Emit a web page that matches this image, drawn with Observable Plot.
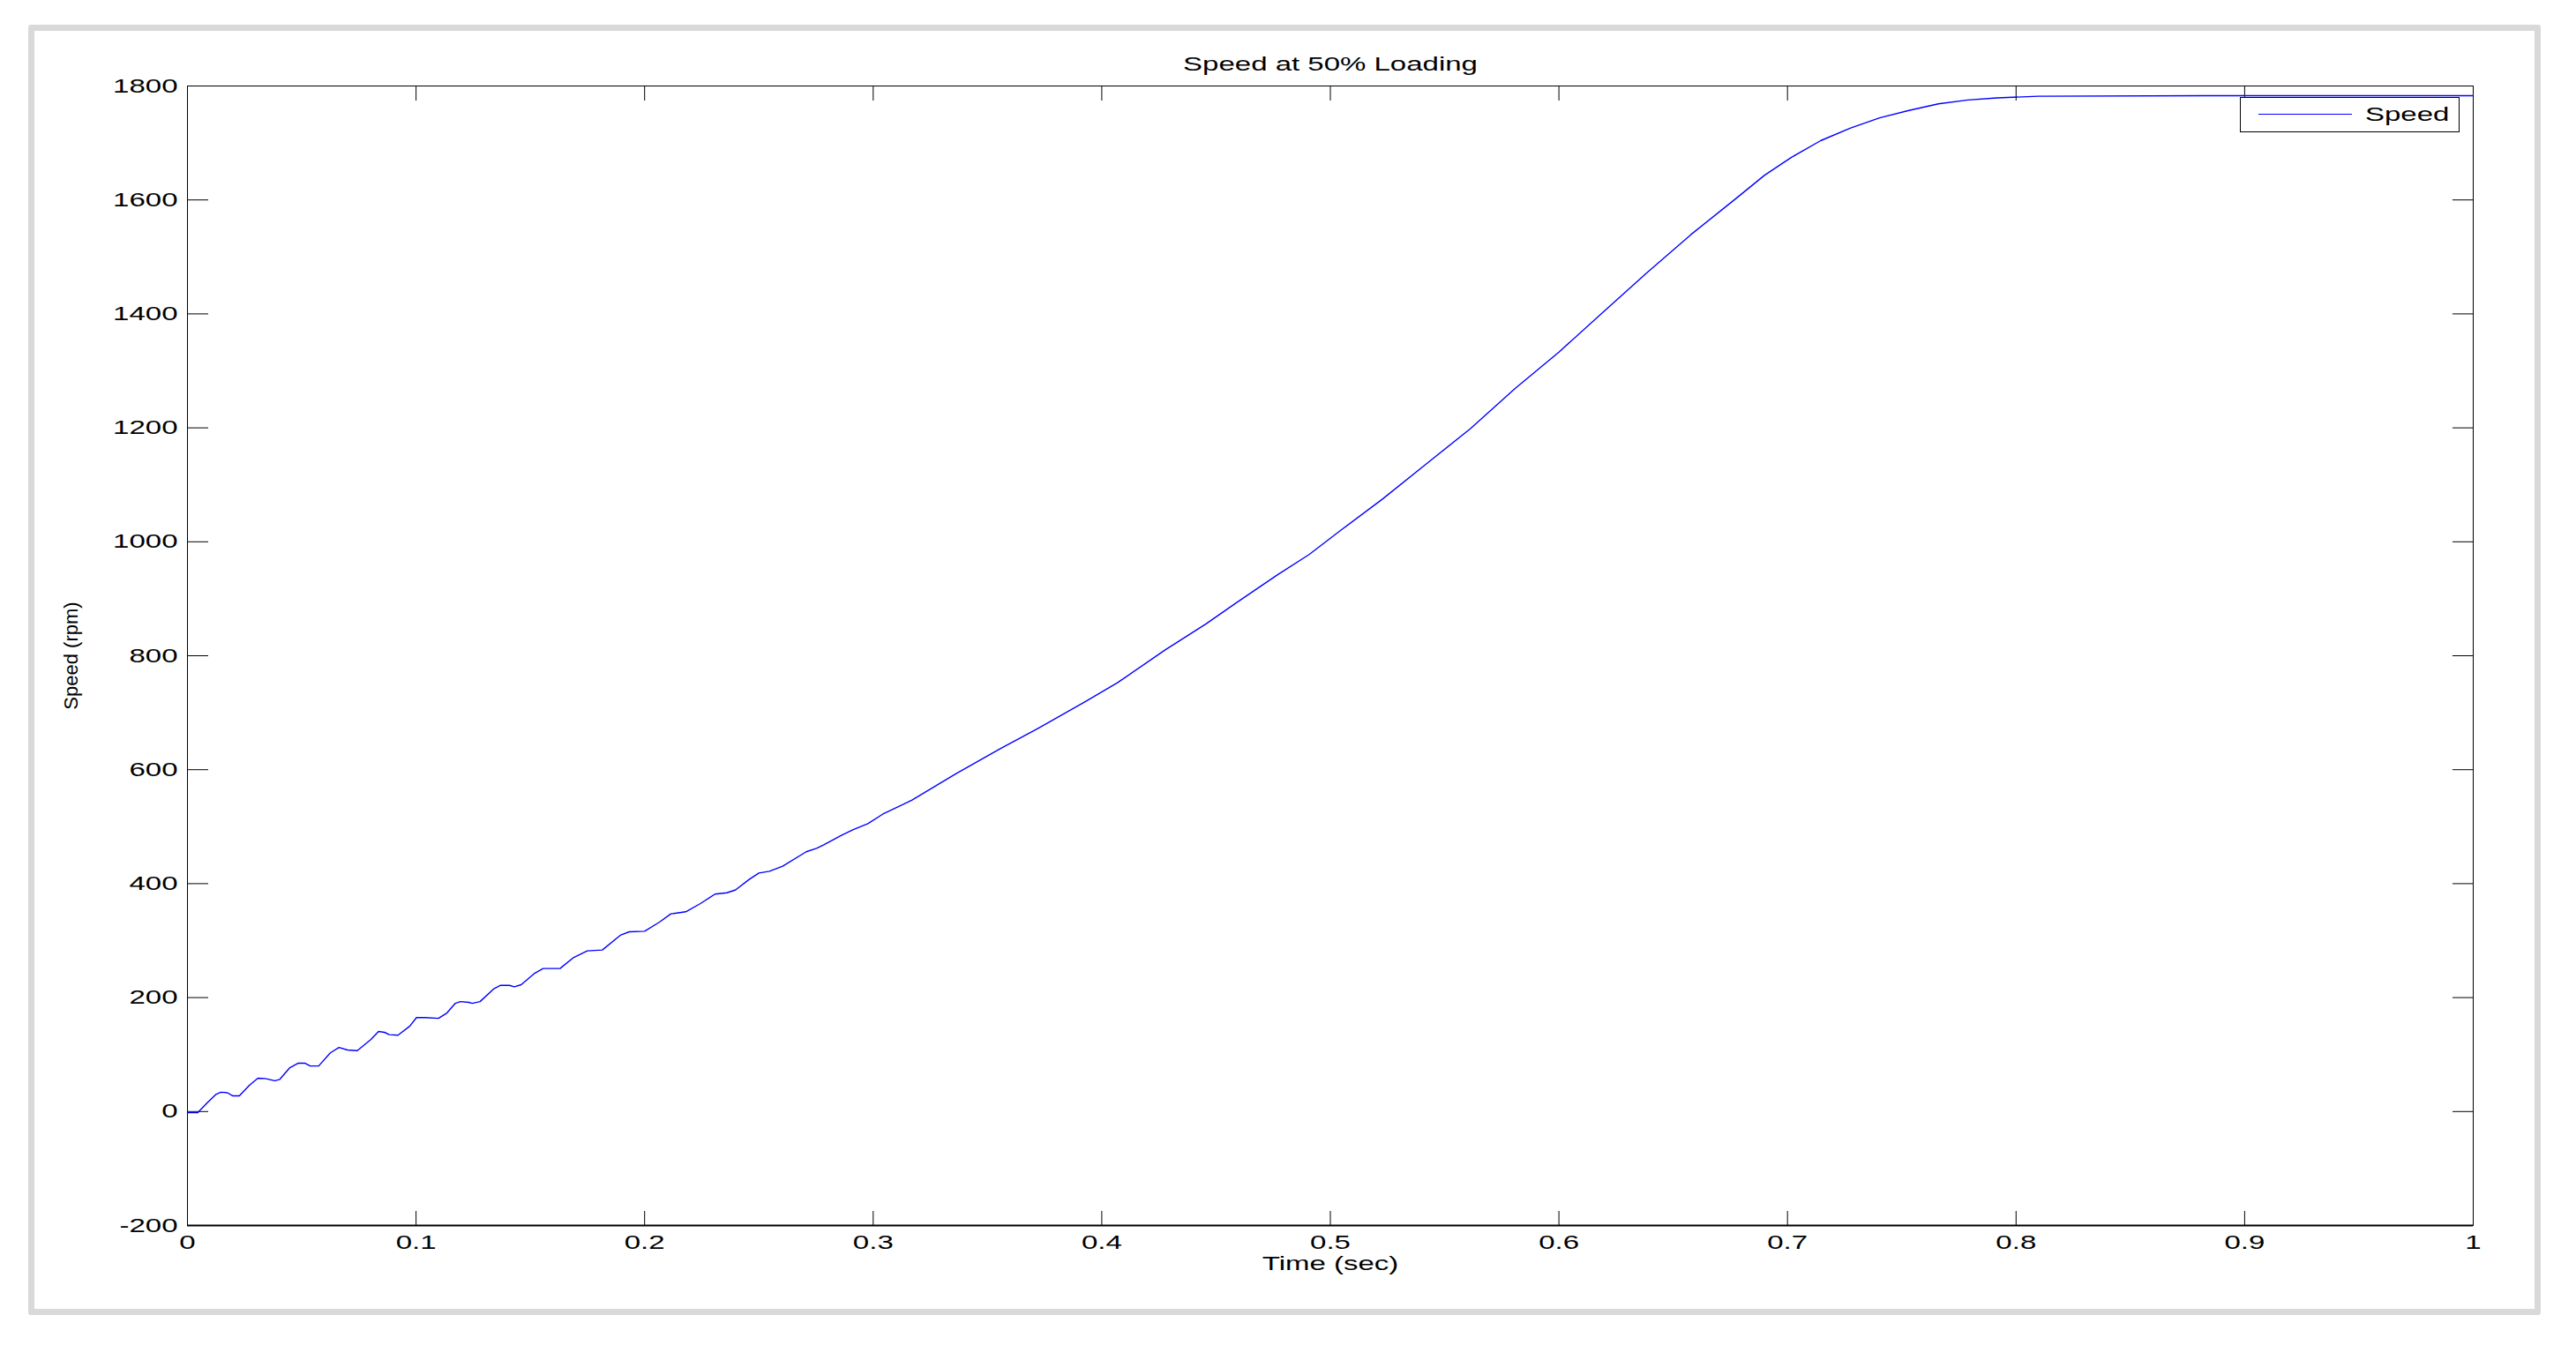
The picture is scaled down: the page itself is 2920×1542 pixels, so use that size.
<!DOCTYPE html>
<html>
<head>
<meta charset="utf-8">
<script src="https://cdn.jsdelivr.net/npm/d3@7"></script>
<script src="https://cdn.jsdelivr.net/npm/@observablehq/plot@0.6"></script>
<style>
  html, body { margin: 0; padding: 0; background: #fff; overflow: hidden; }
  #wrap { position: relative; width: 2920px; height: 1542px; background: #fff; }
  #frame { position: absolute; left: 32px; top: 28px; width: 2848px; height: 1463px; box-sizing: border-box;
           border: 7px solid #d9d9d9; border-radius: 3px; pointer-events: none; }
  #chart { position: absolute; left: 0; top: 0; }
  #legend { position: absolute; left: 2539px; top: 110px; width: 249px; height: 40px; box-sizing: border-box;
            border: 1.3px solid #000; background: #fff; font-family: "Liberation Sans", Arial, sans-serif; }
  #legend .swatch { position: absolute; left: 20px; top: 18px; width: 106px; border-top: 1.5px solid #0000ff; }
  #legend .lbl { position: absolute; left: 141px; top: 8px; font-size: 22px; line-height: 22px; color: #000;
                 transform: scaleX(1.5); transform-origin: left center; white-space: nowrap; }
</style>
</head>
<body>
<div id="wrap">
  <div id="chart"></div>
  <div id="frame"></div>
  <div id="legend"><div class="swatch"></div><span class="lbl">Speed</span></div>
</div>
<script>
// ---- data ----
const titleText = "Speed at 50% Loading";
const xLabel = "Time (sec)";
const yLabel = "Speed (rpm)";
const seriesName = "Speed";

const xTicks = [0, 0.1, 0.2, 0.3, 0.4, 0.5, 0.6, 0.7, 0.8, 0.9, 1];
const xTickLabels = ["0", "0.1", "0.2", "0.3", "0.4", "0.5", "0.6", "0.7", "0.8", "0.9", "1"];
const yTicks = [-200, 0, 200, 400, 600, 800, 1000, 1200, 1400, 1600, 1800];
const yTickLabels = ["-200", "0", "200", "400", "600", "800", "1000", "1200", "1400", "1600", "1800"];

const time = [0, 0.0045, 0.0086, 0.0124, 0.0146, 0.0175, 0.0197, 0.0227, 0.0271, 0.0308, 0.034, 0.0382, 0.0404,
  0.0448, 0.0485, 0.0515, 0.0537, 0.0574, 0.0625, 0.0663, 0.07, 0.0743, 0.0803, 0.0836, 0.0862, 0.0883, 0.0921,
  0.0973, 0.1002, 0.1039, 0.1098, 0.1135, 0.1172, 0.1194, 0.1231, 0.1246, 0.128, 0.1342, 0.137, 0.1409, 0.143,
  0.146, 0.152, 0.1556, 0.163, 0.169, 0.1749, 0.1815, 0.1896, 0.1933, 0.2, 0.2065, 0.2115, 0.218, 0.2244, 0.2308,
  0.236, 0.2398, 0.2456, 0.25, 0.2546, 0.2604, 0.2707, 0.2752, 0.2784, 0.2861, 0.2913, 0.2977, 0.3041, 0.317,
  0.3363, 0.3556, 0.3723, 0.3929, 0.407, 0.4276, 0.4456, 0.4585, 0.4765, 0.4907, 0.5048, 0.5228, 0.5421, 0.5614,
  0.5807, 0.6, 0.6193, 0.6386, 0.6579, 0.6772, 0.69, 0.7016, 0.7145, 0.7274, 0.7403, 0.7531, 0.766, 0.7789,
  0.7917, 0.8097, 0.883, 1.0];
const speed = [-2, -2, 15, 30, 34, 33, 27.6, 27.6, 46, 58.5, 58, 54, 56.5,
  77, 85, 84.8, 80, 80, 103, 112.5, 108, 107, 126.5, 140.5, 139, 135, 134,
  150, 165, 165, 163.6, 173, 190, 193, 191.6, 190, 193, 216, 221.5, 221.5, 219,
  222.6, 243, 251, 251, 270.5, 282, 283.5, 310, 315.5, 316.5, 332.5, 347, 350.6, 365, 381.6,
  384, 389, 407, 418.7, 421.8, 430.5, 456, 462, 468, 484.7, 495, 505.4, 521.8, 546.6,
  593, 637, 673, 719.7, 753, 809.8, 856, 892, 941, 977.6, 1021, 1075, 1137, 1199,
  1268.6, 1333, 1403, 1472.6, 1539.7, 1601.6, 1643.5, 1674.5, 1704, 1726, 1744, 1757, 1768.6, 1775.4,
  1779, 1782, 1783, 1783];

const data = time.map((t, i) => ({t, v: speed[i]}));
const xFmt = d => xTickLabels[xTicks.indexOf(d)] ?? String(d);
const yFmt = d => yTickLabels[yTicks.indexOf(d)] ?? String(d);

const chart = Plot.plot({
  width: 2920,
  height: 1542,
  marginLeft: 212,
  marginRight: 117,
  marginTop: 97,
  marginBottom: 153,
  style: {fontFamily: "'Liberation Sans', Arial, sans-serif", fontSize: "22px", color: "#000", background: "transparent", maxWidth: "none", overflow: "visible"},
  x: {domain: [xTicks[0], xTicks[xTicks.length - 1]], nice: false},
  y: {domain: [yTicks[0], yTicks[yTicks.length - 1]], nice: false},
  marks: [
    Plot.frame({stroke: "#000", strokeWidth: 1}),
    Plot.ruleY([yTicks[0]], {stroke: "#000", strokeWidth: 2}),
    // inward ticks on all four sides
    Plot.axisX({anchor: "bottom", ticks: xTicks, tickSize: -16, fill: "none", label: null}),
    Plot.axisX({anchor: "top", ticks: xTicks, tickSize: -16, fill: "none", label: null}),
    Plot.axisY({anchor: "left", ticks: yTicks, tickSize: -24, fill: "none", label: null}),
    Plot.axisY({anchor: "right", ticks: yTicks, tickSize: -24, fill: "none", label: null}),
    // tick labels
    Plot.axisX({anchor: "bottom", ticks: xTicks, tickSize: 0, tickPadding: 11, tickFormat: xFmt, label: null, fill: "#000"}),
    Plot.axisY({anchor: "left", ticks: yTicks, tickSize: 0, tickPadding: 11, tickFormat: yFmt, label: null, fill: "#000"}),
    // series
    Plot.line(data, {x: "t", y: "v", stroke: "#0000ff", strokeWidth: 1.4}),
    // title and axis labels
    Plot.text([titleText], {frameAnchor: "top", dy: -18, lineAnchor: "bottom", textAnchor: "middle", fontSize: 22, fill: "#000"}),
    Plot.text([xLabel], {frameAnchor: "bottom", dy: 50, lineAnchor: "bottom", textAnchor: "middle", fontSize: 22, fill: "#000"}),
    Plot.text([yLabel], {frameAnchor: "left", dx: -132, rotate: -90, lineAnchor: "middle", textAnchor: "middle", fontSize: 22, fill: "#000"})
  ]
});

// widen horizontal text to match the reference's stretched rendering (rotated y label left as is)
chart.querySelectorAll("text").forEach(el => {
  let t = el.getAttribute("transform") || "";
  if (t.includes("rotate")) return;
  const x = el.getAttribute("x");
  if (x != null) { t = `${t} translate(${x},0)`; el.removeAttribute("x"); }
  el.setAttribute("transform", `${t} scale(1.5,1)`.trim());
});

document.getElementById("chart").appendChild(chart);
</script>
</body>
</html>
